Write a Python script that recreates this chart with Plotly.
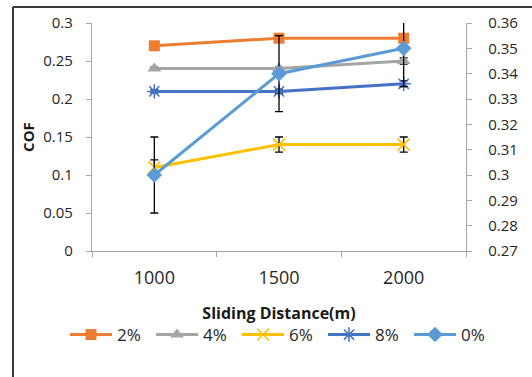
import plotly.graph_objects as go

categories = ["1000", "1500", "2000"]
s2 = [0.27, 0.28, 0.28]
s4 = [0.24, 0.24, 0.25]
s6 = [0.11, 0.14, 0.14]
s8 = [0.21, 0.21, 0.22]
s0 = [0.30, 0.34, 0.35]  # right axis

e2 = [0.002, 0.002, 0.002]
e4 = [0.002, 0.002, 0.004]
e6 = [0.01, 0.01, 0.01]
e8 = [0.002, 0.003, 0.004]
e0 = [0.015, 0.015, 0.015]

W, H = 532, 377
L, R, T, B = 92, 66, 23, 126
pw, ph = W - L - R, H - T - B

def px2x(p):
    return (p - L) / pw

def py2y(p):
    return (H - B - p) / ph

fig = go.Figure()

def err(vals):
    return dict(type="data", array=vals, visible=True, color="black", thickness=1.3, width=4)

fig.add_trace(go.Scatter(x=categories, y=s2, name="2%", mode="lines+markers",
                         line=dict(color="#ED7D31", width=3),
                         marker=dict(symbol="square", size=11, color="#ED7D31"),
                         error_y=err(e2)))
fig.add_trace(go.Scatter(x=categories, y=s4, name="4%", mode="lines+markers",
                         line=dict(color="#A5A5A5", width=3),
                         marker=dict(symbol="triangle-up", size=12, color="#A5A5A5"),
                         error_y=err(e4)))
fig.add_trace(go.Scatter(x=categories, y=s6, name="6%", mode="lines+markers",
                         line=dict(color="#FFC000", width=3),
                         marker=dict(symbol="x-thin-open", size=12, color="#FFC000",
                                     line=dict(color="#FFC000", width=1.5)),
                         error_y=err(e6)))
fig.add_trace(go.Scatter(x=categories, y=s8, name="8%", mode="lines+markers",
                         line=dict(color="#4472C4", width=3),
                         marker=dict(symbol="asterisk-open", size=12, color="#4472C4",
                                     line=dict(color="#4472C4", width=1.5)),
                         error_y=err(e8)))
fig.add_trace(go.Scatter(x=categories, y=s0, name="0%", mode="lines+markers", yaxis="y2",
                         line=dict(color="#5B9BD5", width=3),
                         marker=dict(symbol="diamond", size=12, color="#5B9BD5"),
                         error_y=err(e0)))

axis_col = "#A6A6A6"
fig.update_layout(
    width=W, height=H,
    margin=dict(l=L, r=R, t=T, b=B, pad=0),
    paper_bgcolor="white", plot_bgcolor="white",
    font=dict(family="Open Sans", color="#262626"),
    showlegend=True,
    legend=dict(orientation="h", x=px2x(65), xanchor="left", y=py2y(335), yanchor="middle",
                font=dict(size=17, family="Open Sans", color="#262626"),
                itemwidth=42, entrywidth=29, entrywidthmode="pixels",
                tracegroupgap=0, bgcolor="rgba(0,0,0,0)"),
    xaxis=dict(type="category", range=[-0.5, 2.5], tickson="boundaries",
               showline=True, linecolor=axis_col, linewidth=1.3,
               ticks="outside", ticklen=5, tickcolor=axis_col, showgrid=False, zeroline=False,
               tickfont=dict(size=18, family="Open Sans", color="#262626"),
               ticklabelstandoff=10,
               title=dict(text="<b>Sliding Distance(m)</b>", font=dict(size=16, family="Open Sans", color="#1a1a1a"),
                          standoff=20)),
    yaxis=dict(range=[0, 0.3], dtick=0.05, tick0=0, showline=True, linecolor=axis_col, linewidth=1.3,
               ticks="outside", ticklen=5, tickcolor=axis_col, showgrid=False, zeroline=False,
               tickfont=dict(size=15, family="Open Sans", color="#262626"),
               ticklabelstandoff=10,
               title=dict(text="<b>COF</b>", font=dict(size=15, family="Open Sans", color="#1a1a1a"), standoff=4)),
    yaxis2=dict(range=[0.27, 0.36], dtick=0.01, tick0=0.27, overlaying="y", side="right",
                showline=True, linecolor=axis_col, linewidth=1.3,
                ticks="outside", ticklen=5, tickcolor=axis_col, showgrid=False, zeroline=False,
                tickfont=dict(size=15, family="Open Sans", color="#262626"),
                ticklabelstandoff=13),
    shapes=[
        dict(type="line", xref="paper", yref="paper", x0=px2x(13), x1=px2x(13), y0=py2y(7), y1=py2y(380),
             line=dict(color="#3a3a3a", width=2)),
        dict(type="line", xref="paper", yref="paper", x0=px2x(13), x1=px2x(540), y0=py2y(7), y1=py2y(7),
             line=dict(color="#3a3a3a", width=2)),
    ],
)

fig.write_html("out.html")
